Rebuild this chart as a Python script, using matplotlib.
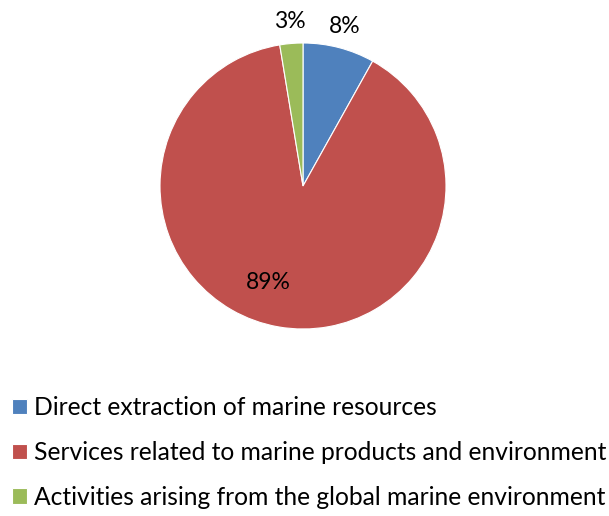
import matplotlib
matplotlib.use("Agg")
import matplotlib.pyplot as plt
import numpy as np

categories = ["Direct extraction of marine resources",
              "Services related to marine products and environment",
              "Activities arising from the global marine environment"]
shares = [8.1, 89.3, 2.6]
colors = ["#4F81BD", "#C0504D", "#9BBB59"]

plt.rcParams['font.family'] = ['Lato', 'DejaVu Sans']

W, H = 609, 516
fig = plt.figure(figsize=(W/100, H/100), dpi=100)
cx, cy, r = 303, 186, 143
ax = fig.add_axes([(cx-r)/W, (H-cy-r)/H, 2*r/W, 2*r/H])
wedges, _ = ax.pie(shares, colors=colors, startangle=90, counterclock=False,
                   radius=1, wedgeprops=dict(edgecolor='white', linewidth=0.8))
ax.set_xlim(-1, 1); ax.set_ylim(-1, 1); ax.set_aspect('equal'); ax.axis('off')

total = sum(shares)
start = 90
for i, (w, v) in enumerate(zip(wedges, shares)):
    ang = start - v/total*360/2
    start -= v/total*360
    lbl = f"{round(v):d}%"
    if v/total > 0.5:
        a = np.deg2rad(ang - 10)
        x, y = 0.72*np.cos(a), 0.72*np.sin(a)
    else:
        a = np.deg2rad(ang)
        x, y = 1.155*np.cos(a), 1.155*np.sin(a)
    ax.text(x, y, lbl, ha='center', va='center', fontsize=16.5, color='black', clip_on=False)

leg = fig.legend(wedges, categories, loc='upper left', bbox_to_anchor=(0.0, 1-384/H),
                 frameon=False, fontsize=17.75, handlelength=0.58, handleheight=0.58,
                 handletextpad=0.3, labelspacing=0.88, borderaxespad=0, borderpad=0.5)
fig.savefig("out.png", dpi=100)
